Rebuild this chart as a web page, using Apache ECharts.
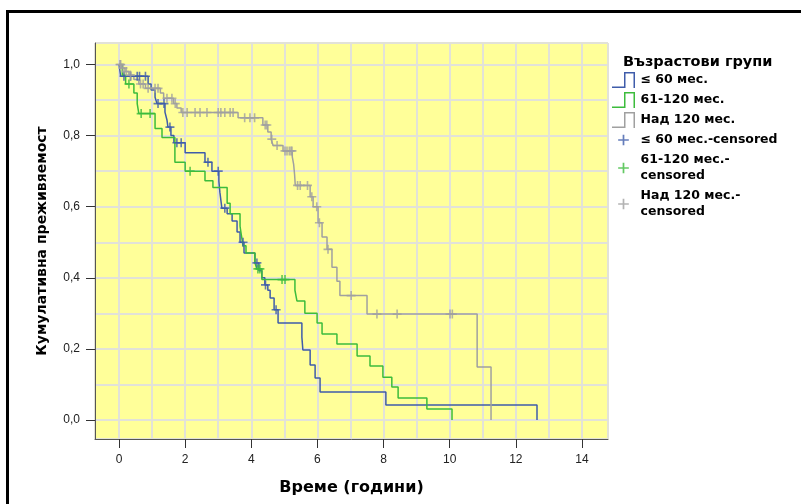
<!DOCTYPE html>
<html>
<head>
<meta charset="utf-8">
<script src="https://cdn.jsdelivr.net/npm/echarts@6/dist/echarts.min.js"></script>
<style>
  html, body { margin: 0; padding: 0; background: #fff; }
  #chart { width: 801px; height: 504px; }
</style>
</head>
<body>
<div id="chart"></div>
<script>
// Kaplan-Meier steps (time in years, cumulative survival)
var groupNames = ['≤ 60 мес.', '61-120 мес.', 'Над 120 мес.']

var blueTimes = [0, 0.05, 0.88, 0.97, 1.09, 1.15, 1.39, 1.45, 1.48, 1.57, 1.66, 2.0, 2.6, 2.81, 3.02, 3.05, 3.11, 3.27, 3.42, 3.57, 3.66, 3.78, 4.11, 4.23, 4.32, 4.41, 4.5, 4.57, 4.69, 4.81, 5.53, 5.56, 5.78, 5.93, 6.08, 8.07, 12.64]
var blueSurv = [1, 0.967, 0.945, 0.928, 0.908, 0.89, 0.866, 0.844, 0.824, 0.80, 0.78, 0.752, 0.725, 0.70, 0.672, 0.641, 0.596, 0.58, 0.56, 0.529, 0.50, 0.47, 0.442, 0.42, 0.40, 0.38, 0.365, 0.343, 0.31, 0.273, 0.233, 0.197, 0.155, 0.118, 0.079, 0.042, 0]
var blueCensored = [0.15, 0.35, 0.55, 0.62, 0.8, 1.18, 1.36, 1.54, 1.75, 1.88, 2.69, 3.0, 3.2, 3.75, 4.17, 4.43, 4.75]

var greenTimes = [0, 0.1, 0.2, 0.45, 0.55, 0.6, 1.09, 1.3, 1.69, 2.0, 2.6, 2.84, 3.27, 3.36, 3.66, 3.7, 3.75, 3.84, 4.11, 4.17, 4.32, 5.32, 5.38, 5.62, 5.99, 6.14, 6.59, 7.2, 7.59, 7.98, 8.25, 8.44, 9.31, 10.07]
var greenSurv = [1, 0.97, 0.945, 0.92, 0.89, 0.862, 0.82, 0.795, 0.725, 0.70, 0.673, 0.654, 0.61, 0.58, 0.545, 0.52, 0.49, 0.47, 0.442, 0.425, 0.395, 0.365, 0.335, 0.30, 0.273, 0.242, 0.214, 0.18, 0.152, 0.12, 0.093, 0.062, 0.031, 0]
var greenCensored = [0.3, 0.67, 0.94, 2.15, 4.2, 4.26, 4.93, 5.02]

var grayTimes = [0, 0.08, 0.18, 0.3, 0.45, 0.6, 0.8, 1.25, 1.35, 1.65, 1.75, 1.88, 3.6, 4.35, 4.5, 4.6, 4.66, 4.96, 5.24, 5.28, 5.31, 5.33, 5.78, 5.87, 6.02, 6.14, 6.29, 6.44, 6.59, 6.68, 7.5, 10.83, 11.25]
var graySurv = [1, 0.99, 0.98, 0.97, 0.958, 0.945, 0.933, 0.92, 0.905, 0.89, 0.878, 0.865, 0.85, 0.83, 0.81, 0.79, 0.772, 0.757, 0.74, 0.72, 0.69, 0.66, 0.628, 0.60, 0.555, 0.515, 0.48, 0.43, 0.39, 0.35, 0.298, 0.149, 0]
var grayCensored = [0.03, 0.05, 0.12, 0.22, 0.35, 0.65, 0.73, 0.88, 1.09, 1.18, 1.45, 1.6, 1.7, 1.93, 2.06, 2.3, 2.45, 2.66, 3.0, 3.08, 3.2, 3.36, 3.45, 3.8, 3.96, 4.1, 4.42, 4.47, 4.62, 4.78, 5.02, 5.08, 5.15, 5.2, 5.23, 5.4, 5.48, 5.7, 5.83, 5.98, 6.06, 6.32, 7.02, 7.8, 8.41, 10.01, 10.08]

var xTicks = [0, 2, 4, 6, 8, 10, 12, 14]
var yTicks = [0, 0.2, 0.4, 0.6, 0.8, 1.0]

var font = '"Liberation Sans", Arial, sans-serif'
var boldFont = '"DejaVu Sans", "Liberation Sans", Arial, sans-serif'
var colors = ['#3F5CAA', '#3CBC3C', '#A0A0A0']
var xMin = -0.726
var xMax = 14.787
var yMin = -0.0534
var yMax = 1.0605

var stepIcon = 'path://M0,14.5 L12,14.5 L12,0 L23,0 L23,16 L21.5,16 L21.5,1.5 L13.5,1.5 L13.5,16 L0,16 Z'
var plusMark = 'path://M4.1,0 L5.9,0 L5.9,4.1 L10,4.1 L10,5.9 L5.9,5.9 L5.9,10 L4.1,10 L4.1,5.9 L0,5.9 L0,4.1 L4.1,4.1 Z'
// same cross with tiny corner specks so the legend draws it smaller
var plusIcon = 'path://M-2.5,-2.5 L-2.45,-2.5 L-2.5,-2.45 Z M12.5,12.5 L12.45,12.5 L12.5,12.45 Z M4.2,0 L5.8,0 L5.8,4.2 L10,4.2 L10,5.8 L5.8,5.8 L5.8,10 L4.2,10 L4.2,5.8 L0,5.8 L0,4.2 L4.2,4.2 Z'

function survAt(times, surv, t) {
  var s = surv[0]
  for (var i = 0; i < times.length; i++) {
    if (times[i] <= t) s = surv[i]
  }
  return s
}

function stepData(times, surv) {
  return times.map(function (t, i) { return [t, surv[i]] })
}

function censData(times, surv, cens) {
  return cens.map(function (t) { return [t, survAt(times, surv, t)] })
}

var curves = [
  { times: blueTimes, surv: blueSurv, cens: blueCensored },
  { times: greenTimes, surv: greenSurv, cens: greenCensored },
  { times: grayTimes, surv: graySurv, cens: grayCensored }
]

var legendText = {}
legendText[groupNames[1] + '-censored'] = groupNames[1] + '-\ncensored'
legendText[groupNames[2] + '-censored'] = groupNames[2] + '-\ncensored'

var series = []
var legendData = []
curves.forEach(function (c, i) {
  series.push({
    name: groupNames[i],
    type: 'line',
    step: 'end',
    data: stepData(c.times, c.surv),
    showSymbol: false,
    symbol: 'none',
    lineStyle: { width: 1.5, color: colors[i] },
    itemStyle: { color: colors[i] },
    z: 3
  })
  legendData.push({ name: groupNames[i], icon: stepIcon })
})
curves.forEach(function (c, i) {
  series.push({
    name: groupNames[i] + '-censored',
    type: 'scatter',
    data: censData(c.times, c.surv, c.cens),
    symbol: plusMark,
    symbolSize: 9,
    itemStyle: { color: colors[i] },
    z: 4
  })
  legendData.push({ name: groupNames[i] + '-censored', icon: plusIcon })
})

function isStep(v, step, lo, hi) {
  var k = v / step
  return v >= lo - 1e-9 && v <= hi + 1e-9 && Math.abs(k - Math.round(k)) < 1e-6
}

var chart = echarts.init(document.getElementById('chart'))
chart.setOption({
  backgroundColor: '#fff',
  animation: false,
  textStyle: { fontFamily: font },
  title: {
    text: 'Възрастови групи',
    left: 623,
    top: 55,
    padding: 0,
    textStyle: { fontSize: 14.5, fontWeight: 'bold', color: '#000', fontFamily: boldFont }
  },
  legend: {
    orient: 'vertical',
    left: 612,
    top: 72,
    padding: 0,
    itemWidth: 24,
    itemHeight: 16,
    itemGap: 4,
    selectedMode: false,
    formatter: function (name) { return legendText[name] || name },
    textStyle: { fontSize: 12.5, fontWeight: 'bold', color: '#000', lineHeight: 16, fontFamily: boldFont },
    data: legendData
  },
  grid: {
    left: 95,
    right: 193,
    top: 43,
    bottom: 65,
    show: true,
    backgroundColor: '#FFFF99',
    borderColor: '#666',
    borderWidth: 1
  },
  xAxis: [{
    type: 'value',
    min: xMin,
    max: xMax,
    splitNumber: 15,
    axisLine: { show: true, onZero: false, lineStyle: { color: '#555' } },
    axisTick: { show: false },
    axisLabel: { show: false },
    splitLine: { show: true, lineStyle: { color: '#E2E2D8', width: 2 } }
  }, {
    type: 'value',
    position: 'bottom',
    min: xMin,
    max: xMax,
    splitNumber: 7,
    axisLine: { show: false, onZero: false },
    axisTick: { show: true, length: 9, customValues: xTicks, lineStyle: { color: '#333' } },
    axisLabel: {
      customValues: xTicks,
      margin: 15,
      fontSize: 12,
      color: '#222',
      formatter: function (v) { return isStep(v, 2, 0, 14) ? String(Math.round(v)) : '' }
    },
    splitLine: { show: false },
    name: 'Време (години)',
    nameLocation: 'middle',
    nameGap: 41,
    nameTextStyle: { fontSize: 16, fontWeight: 'bold', color: '#000', fontFamily: boldFont }
  }],
  yAxis: [{
    type: 'value',
    min: yMin,
    max: yMax,
    splitNumber: 11,
    axisLine: { show: true, onZero: false, lineStyle: { color: '#555' } },
    axisTick: { show: false },
    axisLabel: { show: false },
    splitLine: { show: true, lineStyle: { color: '#E2E2D8', width: 2 } }
  }, {
    type: 'value',
    position: 'left',
    min: yMin,
    max: yMax,
    splitNumber: 5,
    axisLine: { show: false, onZero: false },
    axisTick: { show: true, length: 9, customValues: yTicks, lineStyle: { color: '#333' } },
    axisLabel: {
      customValues: yTicks,
      margin: 15,
      fontSize: 12,
      color: '#222',
      formatter: function (v) { return isStep(v, 0.2, 0, 1) ? v.toFixed(1).replace('.', ',') : '' }
    },
    splitLine: { show: false },
    name: 'Кумулативна преживяемост',
    nameLocation: 'middle',
    nameGap: 46,
    nameTextStyle: { fontSize: 14, fontWeight: 'bold', color: '#000', fontFamily: boldFont }
  }],
  graphic: [{
    type: 'rect',
    silent: true,
    z: 100,
    shape: { x: 7.5, y: 11.5, width: 820, height: 520 },
    style: { fill: 'none', stroke: '#000', lineWidth: 3 }
  }],
  series: series
})
</script>
</body>
</html>
